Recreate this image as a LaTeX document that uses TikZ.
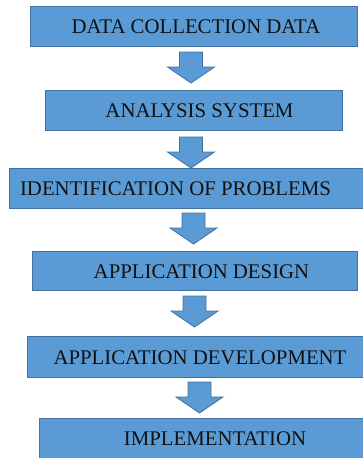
\documentclass[tikz,border=0pt]{standalone}
\usepackage{fontspec}
\setmainfont{Liberation Serif}
\definecolor{boxfill}{HTML}{5B9BD5}
\definecolor{boxline}{HTML}{41719C}
\definecolor{txt}{HTML}{111111}
\begin{document}
\begin{tikzpicture}[x=1pt,y=-1pt,
  stagebox/.style={fill=boxfill,draw=boxline,line width=0.8pt},
  stagetext/.style={inner sep=0pt,text=txt,font=\fontsize{20.8}{24}\selectfont},
  blockarrow/.pic={
    \draw[fill=boxfill,draw=boxline,line width=0.8pt]
      (-11.5,0) -- (11.5,0) -- (11.5,15) -- (23.5,15) -- (0,31) -- (-23.5,15) -- (-11.5,15) -- cycle;
  }]
\useasboundingbox (0,0) rectangle (363,458);
\clip (0,0) rectangle (363,458);
% boxes
\draw[stagebox] (30,6) rectangle (357,46);
\node[stagetext] (b1) at (196,27) {DATA COLLECTION DATA};
\draw[stagebox] (45,90) rectangle (342,130);
\node[stagetext] (b2) at (199.5,111) {ANALYSIS SYSTEM};
\draw[stagebox] (9,168) rectangle (366,208);
\node[stagetext] (b3) at (175.5,189) {IDENTIFICATION OF PROBLEMS};
\draw[stagebox] (32,251) rectangle (357,290);
\node[stagetext] (b4) at (201.5,271.5) {APPLICATION DESIGN};
\draw[stagebox] (27,336) rectangle (366,377);
\node[stagetext] (b5) at (200,357.5) {APPLICATION DEVELOPMENT};
\draw[stagebox] (39,418) rectangle (366,462);
\node[stagetext] (b6) at (215,439) {IMPLEMENTATION};
% arrows
\pic at (191,52) {blockarrow};
\pic at (191,137) {blockarrow};
\pic at (193.5,213) {blockarrow};
\pic at (194.5,296) {blockarrow};
\pic at (199.5,382) {blockarrow};
\end{tikzpicture}
\end{document}
